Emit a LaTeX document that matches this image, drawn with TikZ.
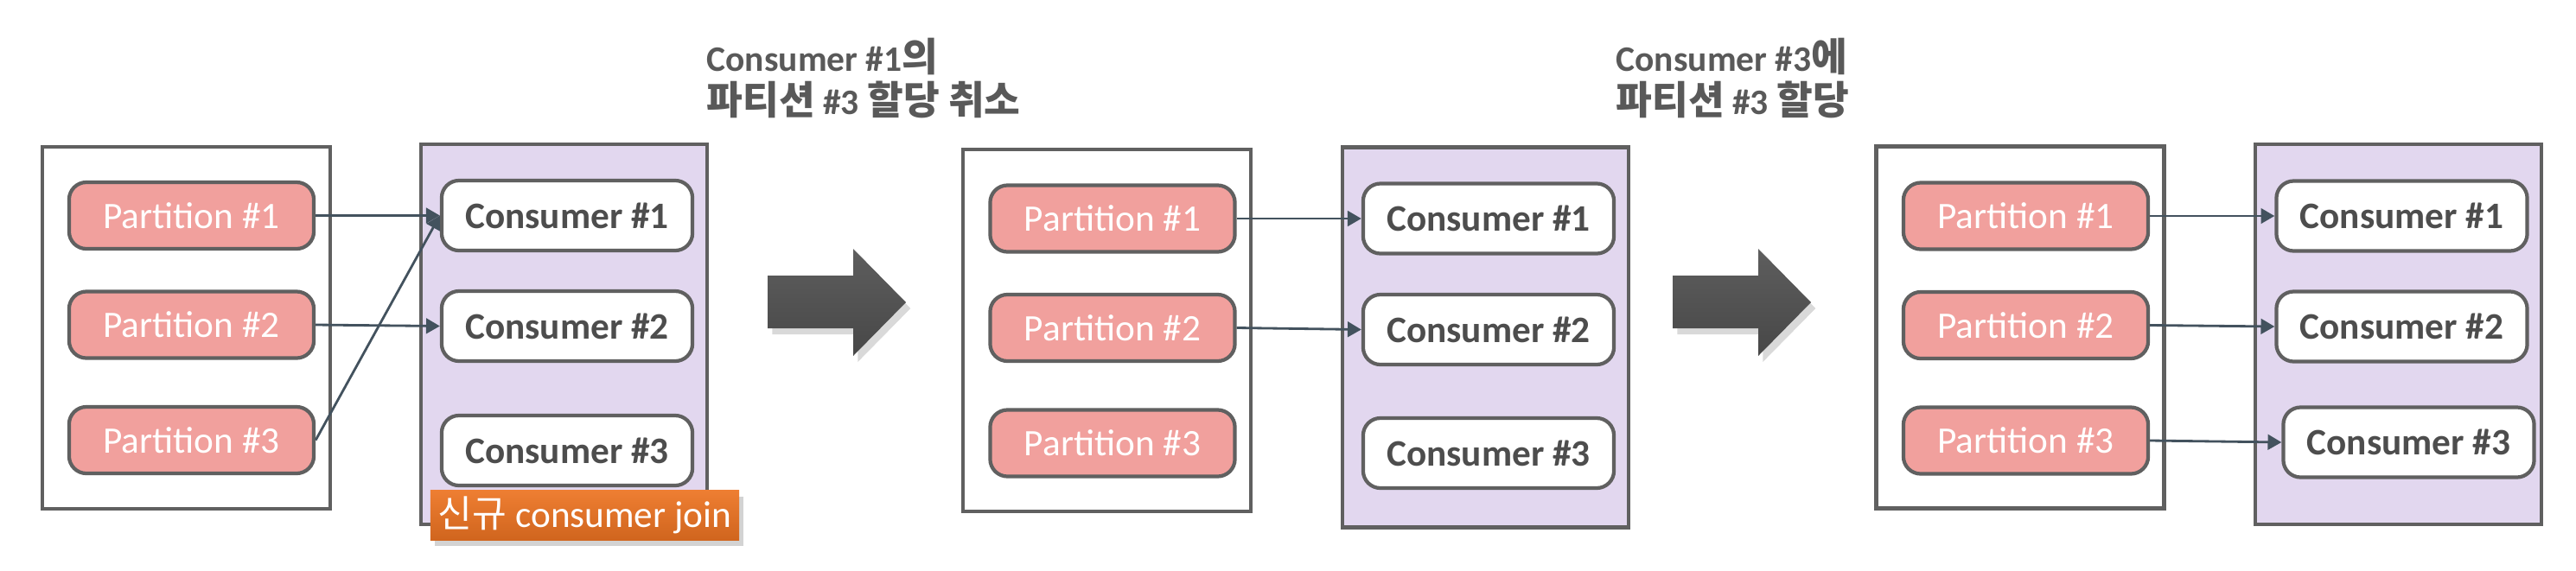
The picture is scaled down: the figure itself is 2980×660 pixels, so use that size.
\documentclass[tikz,border=0pt]{standalone}
\usepackage{fontspec}
\setmainfont{Carlito}
\newfontfamily\cjk{Noto Sans CJK KR}
\usetikzlibrary{arrows.meta,shadows}

\definecolor{bordergray}{HTML}{606060}
\definecolor{pinkfill}{HTML}{F1A09D}
\definecolor{lavender}{HTML}{E2D7EF}
\definecolor{consgray}{HTML}{4D4D4D}
\definecolor{titlegray}{HTML}{595959}
\definecolor{linkgray}{HTML}{43525E}
\definecolor{jointop}{HTML}{EE7E32}
\definecolor{joinbot}{HTML}{D0651E}
\definecolor{arrowtop}{HTML}{5E5E5E}
\definecolor{arrowbot}{HTML}{474747}

\newcommand\krt[1]{{\cjk\fontsize{12.9pt}{14pt}\selectfont #1}}

\begin{document}
\begin{tikzpicture}
		[x=0.01cm,y=-0.01cm,
		pgroup/.style={draw=bordergray,line width=1.3pt,fill=white,minimum width=3.33cm,minimum height=4.19cm},
		cgroup/.style={draw=bordergray,line width=1.3pt,fill=lavender,minimum width=3.31cm,minimum height=4.40cm},
		pbox/.style={draw=bordergray,line width=1.2pt,rounded corners=0.2cm,fill=pinkfill,text=white,
			minimum width=2.83cm,minimum height=0.77cm,font=\fontsize{12.3pt}{14pt}\selectfont},
		cbox/.style={draw=bordergray,line width=1.2pt,rounded corners=0.2cm,fill=white,text=consgray,
			minimum width=2.90cm,minimum height=0.81cm,font=\fontsize{12.3pt}{14pt}\selectfont\bfseries},
		link/.style={-{Triangle[length=4.5pt,width=5pt]},draw=linkgray,line width=0.8pt},
		steptitle/.style={anchor=base west,inner sep=0pt,text=titlegray,font=\fontsize{11.8pt}{14pt}\selectfont\bfseries},
		joinnote/.style={top color=jointop,bottom color=joinbot,text=white,inner sep=0pt,
			minimum width=3.57cm,minimum height=0.57cm,font=\fontsize{12.3pt}{14pt}\selectfont,
			drop shadow={shadow xshift=1.5pt,shadow yshift=-2pt,opacity=0.35}},
		bigarrow/.style={top color=arrowtop,bottom color=arrowbot,
			drop shadow={shadow xshift=1.5pt,shadow yshift=-2pt,opacity=0.3}}]
		\useasboundingbox (0,0) rectangle (2980,660);

		% step 1: new consumer joins
		\node[pgroup] (grp1) at (215.5,379.5) {};
		\node[cgroup] (cgrp1) at (652.5,387) {};
		\node[pbox] (p11) at (221.5,249.5) {Partition \#1};
		\node[pbox] (p12) at (221.5,376) {Partition \#2};
		\node[pbox] (p13) at (221.5,509.5) {Partition \#3};
		\node[cbox] (c11) at (656,249.5) {Consumer \#1};
		\node[cbox] (c12) at (656,377.5) {Consumer \#2};
		\node[cbox] (c13) at (656,521.5) {Consumer \#3};

		\draw[link] (p11.east) -- (c11.west);
		\draw[link] (p12.east) -- (c12.west);
		\draw[link] (p13.east) -- (c11.west);

		\node[joinnote] (join1) at (676.5,596.5) {{\cjk 신규} consumer join};

		\shade[bigarrow] (888,319) -- (987,319) -- (987,288) -- (1048,350) -- (987,412) -- (987,380) -- (888,380) -- cycle;
		\node[steptitle] (title1) at (817,82) {Consumer \#1\krt{의}};
		\node[steptitle] (title1b) at (817,132) {\krt{파티션} \#3 \krt{할당 취소}};

		% step 2: partition 3 revoked
		\node[pgroup] (grp2) at (1280.5,382.5) {};
		\node[cgroup] (cgrp2) at (1718.5,390.5) {};
		\node[pbox] (p21) at (1287,253) {Partition \#1};
		\node[pbox] (p22) at (1287,379.5) {Partition \#2};
		\node[pbox] (p23) at (1287,513) {Partition \#3};
		\node[cbox] (c21) at (1722,253) {Consumer \#1};
		\node[cbox] (c22) at (1722,381.5) {Consumer \#2};
		\node[cbox] (c23) at (1722,524.5) {Consumer \#3};

		\draw[link] (p21.east) -- (c21.west);
		\draw[link] (p22.east) -- (c22.west);

		\shade[bigarrow] (1935,319) -- (2034,319) -- (2034,288) -- (2095,350) -- (2034,412) -- (2034,380) -- (1935,380) -- cycle;
		\node[steptitle] (title2) at (1869,82) {Consumer \#3\krt{에}};
		\node[steptitle] (title2b) at (1869,132) {\krt{파티션} \#3 \krt{할당}};

		% step 3: partition 3 assigned
		\node[pgroup] (grp3) at (2337,379) {};
		\node[cgroup] (cgrp3) at (2774.5,387) {};
		\node[pbox] (p31) at (2343.5,250) {Partition \#1};
		\node[pbox] (p32) at (2343.5,376.5) {Partition \#2};
		\node[pbox] (p33) at (2343.5,510) {Partition \#3};
		\node[cbox] (c31) at (2778.5,250) {Consumer \#1};
		\node[cbox] (c32) at (2778.5,378) {Consumer \#2};
		\node[cbox] (c33) at (2786.5,512) {Consumer \#3};

		\draw[link] (p31.east) -- (c31.west);
		\draw[link] (p32.east) -- (c32.west);
		\draw[link] (p33.east) -- (c33.west);

	\end{tikzpicture}
\end{document}
